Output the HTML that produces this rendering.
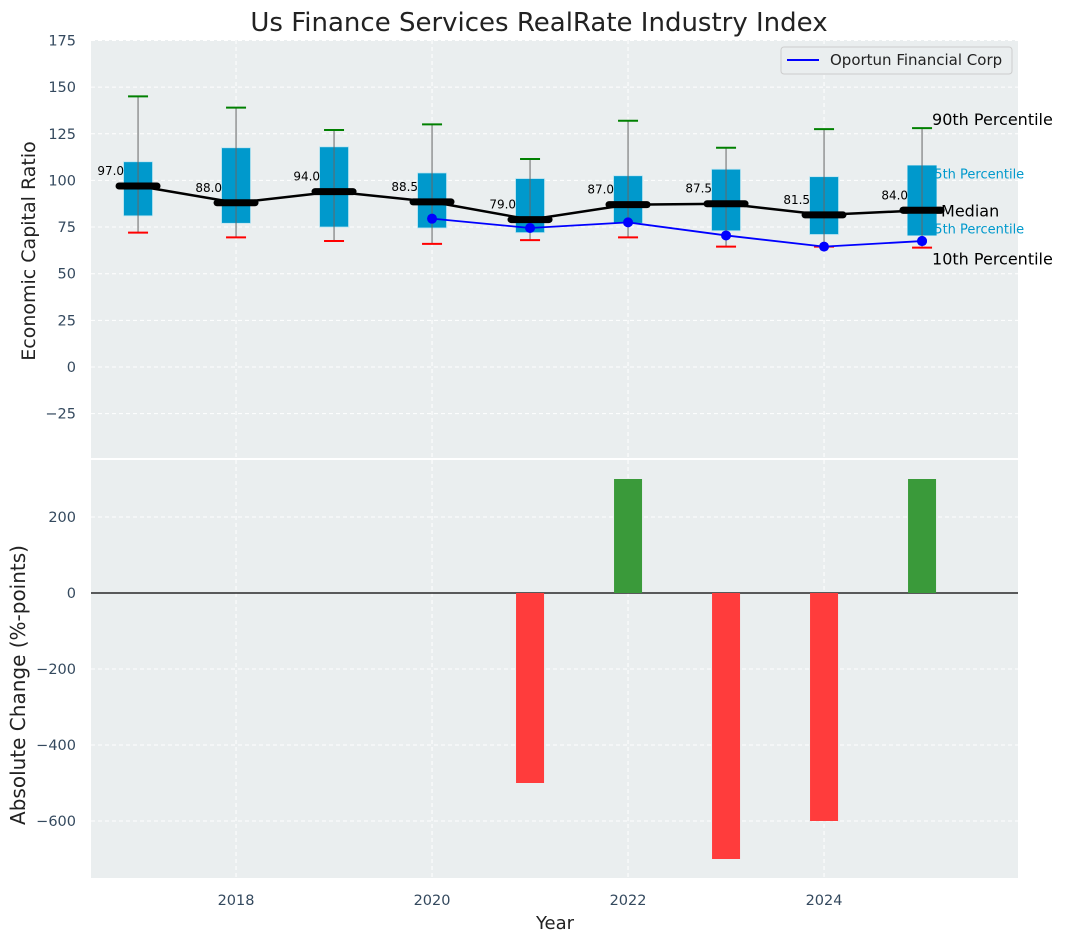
<!DOCTYPE html>
<html><head><meta charset="utf-8"><style>
html,body{margin:0;padding:0;background:#fff}
svg{display:block;font-family:"DejaVu Sans","Liberation Sans",sans-serif}
</style></head><body>
<svg id="chart" width="1067" height="942" viewBox="0 0 1067 942" xmlns="http://www.w3.org/2000/svg">
<text x="539" y="31" text-anchor="middle" font-size="26" fill="#222">Us Finance Services RealRate Industry Index</text>
<rect x="91" y="40" width="927" height="418" fill="#eaeeef"/>
<rect x="91" y="460" width="927" height="418" fill="#eaeeef"/>
<g id="grid"></g>
<g id="bars"></g>
<g id="boxes"></g>
<g id="ticks"></g>
<text transform="translate(35,251) rotate(-90)" text-anchor="middle" font-size="19" fill="#222">Economic Capital Ratio</text>
<text transform="translate(25,685) rotate(-90)" text-anchor="middle" font-size="20" fill="#222">Absolute Change (%-points)</text>
<text x="555" y="929" text-anchor="middle" font-size="18" fill="#222">Year</text>
<g>
<rect x="781" y="47" width="231" height="27" rx="3" fill="#eaeeef" stroke="#ccc"/>
<line x1="787" y1="60" x2="819" y2="60" stroke="#0000ff" stroke-width="2"/>
<text x="830" y="65" font-size="15" fill="#222">Oportun Financial Corp</text>
</g>
</svg>
<script>
const years=[2017,2018,2019,2020,2021,2022,2023,2024,2025];
const p90=[145,139,127,130,111.5,132,117.5,127.5,128];
const p75=[110,117.5,118,104,101,102.5,106,102,108];
const median=[97,88,94,88.5,79,87,87.5,81.5,84];
const p25=[81,77,75,74.5,72,77,73,71,70.5];
const p10=[72,69.5,67.5,66,68,69.5,64.5,64.5,64];
const companyYears=[2020,2021,2022,2023,2024,2025];
const companyVals=[79.5,74.5,77.5,70.5,64.5,67.5];
const changeYears=[2021,2022,2023,2024,2025];
const changeVals=[-500,300,-700,-600,300];
const topTicks=[-25,0,25,50,75,100,125,150,175];
const botTicks=[-600,-400,-200,0,200];
const xTicks=[2018,2020,2022,2024];

const NS="http://www.w3.org/2000/svg";
const X=v=>91+(v-2016.52)*98;
const YT=v=>367-v*1.866;
const YB=v=>593-v*0.38;
function mk(parent,tag,attrs,text){const e=document.createElementNS(NS,tag);for(const k in attrs)e.setAttribute(k,attrs[k]);if(text!==undefined)e.textContent=text;document.getElementById(parent).appendChild(e);return e;}

xTicks.forEach(t=>{[[40,458],[460,878]].forEach(r=>{
 const g=mk('grid','line',{x1:X(t),x2:X(t),y1:r[0],y2:r[1],stroke:'#fff','stroke-dasharray':'4,3','stroke-width':1});
 
 
});});
topTicks.forEach(t=>{const g=mk('grid','line',{x1:91,x2:1018,y1:YT(t),y2:YT(t),stroke:'#fff','stroke-dasharray':'4,3'});
 
 
 const l=mk('ticks','text',{x:76,y:YT(t)+5,'text-anchor':'end','font-size':14.5,fill:'#34495e'},String(t).replace('-','\u2212'));
 
 
});
botTicks.forEach(t=>{const g=mk('grid','line',{x1:91,x2:1018,y1:YB(t),y2:YB(t),stroke:'#fff','stroke-dasharray':'4,3'});
 
 
 const l=mk('ticks','text',{x:76,y:YB(t)+5,'text-anchor':'end','font-size':14.5,fill:'#34495e'},String(t).replace('-','\u2212'));
 
 
});
xTicks.forEach(t=>{const l=mk('ticks','text',{x:X(t),y:905,'text-anchor':'middle','font-size':14.5,fill:'#34495e'},t);
 
 
});
const z=mk('bars','line',{x1:91,x2:1018,y1:YB(0),y2:YB(0),stroke:'#000','stroke-width':1.3});


changeYears.forEach((y,i)=>{const v=changeVals[i];
 const b=mk('bars','rect',{x:X(y)-14,width:28,y:Math.min(YB(0),YB(v)),height:Math.abs(YB(v)-YB(0)),fill:v>=0?'#3a9a3a':'#ff3c3c'});
 
 
});
years.forEach((y,i)=>{const cx=X(y);
 const b=mk('boxes','rect',{x:cx-14.5,width:29,y:YT(p75[i]),height:YT(p25[i])-YT(p75[i]),fill:'#0099cc',stroke:'#bfe6f2','stroke-width':0.8});
 
 
 const w=mk('boxes','line',{x1:cx,x2:cx,y1:YT(p90[i]),y2:YT(p10[i]),stroke:'#666','stroke-width':1});
 
 
 const c1=mk('boxes','line',{x1:cx-10,x2:cx+10,y1:YT(p90[i]),y2:YT(p90[i]),stroke:'#008000','stroke-width':2});
 
 
 const c2=mk('boxes','line',{x1:cx-10,x2:cx+10,y1:YT(p10[i]),y2:YT(p10[i]),stroke:'#ff0000','stroke-width':2});
 
 
});
const mp=mk('boxes','polyline',{points:years.map((y,i)=>X(y)+','+YT(median[i])).join(' '),fill:'none',stroke:'#000','stroke-width':2.5});


years.forEach((y,i)=>{const cx=X(y);
 const m=mk('boxes','line',{x1:cx-19,x2:cx+19,y1:YT(median[i]),y2:YT(median[i]),stroke:'#000','stroke-width':7,'stroke-linecap':'round'});
 
 
 const t=mk('boxes','text',{x:cx-14,y:YT(median[i])-11,'text-anchor':'end','font-size':12,fill:'#000'},median[i].toFixed(1));
 
 
});
const cl=mk('boxes','polyline',{points:companyYears.map((y,i)=>X(y)+','+YT(companyVals[i])).join(' '),fill:'none',stroke:'#0000ff','stroke-width':1.8});


companyYears.forEach((y,i)=>{const p=mk('boxes','circle',{cx:X(y),cy:YT(companyVals[i]),r:5,fill:'#0000ff'});
 
 
});
const L=years.length-1, ax=X(years[L]);
const ann=[['90th Percentile',ax+10,YT(p90[L])-3,16,'#000'],['75th Percentile',ax+4,YT(p75[L])+13,13,'#0099cc'],['Median',ax+19,YT(median[L])+6,16,'#000'],['25th Percentile',ax+4,YT(p25[L])-2,13,'#0099cc'],['10th Percentile',ax+10,YT(p10[L])+17,16,'#000']];
ann.forEach(a=>{const t=mk('boxes','text',{x:a[1],y:a[2],'font-size':a[3],fill:a[4]},a[0]);
 
 
});
const i=L,cx=ax;
const rb=mk('boxes','rect',{x:cx-14.5,width:29,y:YT(p75[i]),height:YT(p25[i])-YT(p75[i]),fill:'#0099cc'});


const rw=mk('boxes','line',{x1:cx,x2:cx,y1:YT(p75[i]),y2:YT(p25[i]),stroke:'#666'});


const rm=mk('boxes','line',{x1:cx-19,x2:cx+19,y1:YT(median[i]),y2:YT(median[i]),stroke:'#000','stroke-width':7,'stroke-linecap':'round'});


const rp=mk('boxes','circle',{cx:X(companyYears[companyYears.length-1]),cy:YT(companyVals[companyVals.length-1]),r:5,fill:'#0000ff'});


</script>
</body></html>
